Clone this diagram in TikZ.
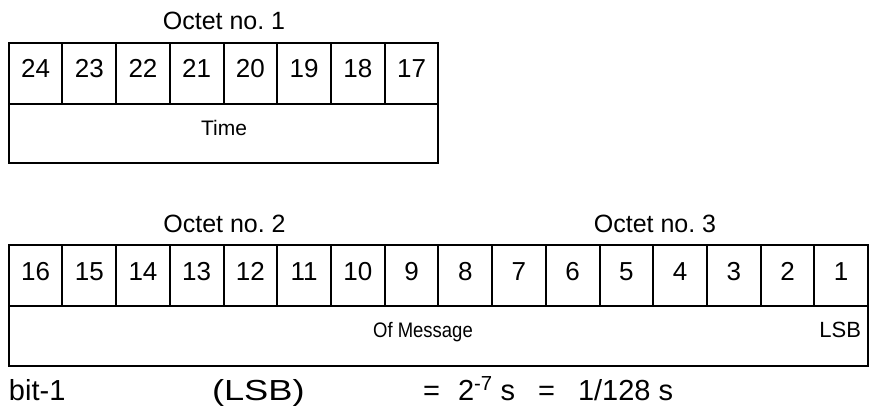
\documentclass[tikz,border=0pt]{standalone}
\usepackage{fontspec}
\setmainfont{Liberation Sans}
\frenchspacing
\newcommand*{\bitfont}{\fontsize{26}{31}\selectfont}
\newcommand*{\octfont}{\fontsize{25}{30}\selectfont}
\newcommand*{\notefont}{\fontsize{21}{25}\selectfont}
\newcommand*{\linefont}{\fontsize{29}{34}\selectfont}
\usepackage{tikz}
\usetikzlibrary{positioning}
\tikzstyle{base}=[inner sep=0pt, outer sep=0pt]
\tikzstyle{frame}=[black, line width=2pt]
\tikzstyle{bitnum}=[anchor=base, font=\bitfont]
\tikzstyle{octet}=[anchor=base, font=\octfont]
\tikzstyle{note}=[anchor=base, font=\notefont]
\tikzstyle{formula}=[anchor=base west, font=\linefont]
\begin{document}
\begin{tikzpicture}[base, x=1pt, y=-1pt]
    \path [use as bounding box] (0,0) rectangle (869,410);
        % octet 1
        \node [octet] (oct1) at (224,29) {Octet no. 1};
        \foreach \i in {0,...,7} {
            \pgfmathtruncatemacro{\b}{24-\i}
            \draw [frame] (8.7+53.71*\i,42.7) rectangle (8.7+53.71*\i+53.71,104);
            \node [bitnum] (bit\b) at (8.7+53.71*\i+26.85,77) {\b};
        }
        \draw [frame] (8.7,104) rectangle (438.4,162.7);
        \node [note] (time) at (224,135) {Time};
        % octets 2 and 3
        \node [octet] (oct2) at (224.5,232) {Octet no. 2};
        \node [octet] (oct3) at (655,232) {Octet no. 3};
        \foreach \i in {0,...,15} {
            \pgfmathtruncatemacro{\b}{16-\i}
            \draw [frame] (8.7+53.71*\i,245) rectangle (8.7+53.71*\i+53.71,306);
            \node [bitnum] (bit\b) at (8.7+53.71*\i+26.85,280) {\b};
        }
        \draw [frame] (8.7,306) rectangle (868,365.7);
        \node [note] (msg) at (423,337) {\scalebox{0.88}[1]{Of Message}};
        \node [note, anchor=base east, font=\fontsize{22}{26}\selectfont] (lsb) at (861,337) {LSB};
        % resolution line
        \node [formula] (bitone) at (9,400) {bit-1};
        \node [formula] (lsbnote) at (212,400) {\scalebox{1.25}[1]{(LSB)}};
        \node [formula] (eqa) at (423,400) {=};
        \node [formula] (pow) at (458,400) {2\textsuperscript{-7} s};
        \node [formula] (eqb) at (538,400) {=};
        \node [formula] (frac) at (578,400) {1/128 s};
\end{tikzpicture}
\end{document}
